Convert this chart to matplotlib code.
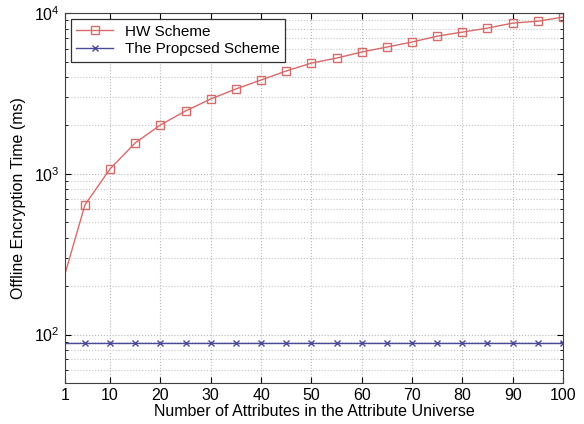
import numpy as np
import matplotlib
matplotlib.use("Agg")
import matplotlib.pyplot as plt
from matplotlib.ticker import LogLocator, NullFormatter

plt.rcParams['font.family'] = ['Liberation Sans', 'DejaVu Sans']

# number of attributes in the universe
attrs = [1, 5, 10, 15, 20, 25, 30, 35, 40, 45, 50,
         55, 60, 65, 70, 75, 80, 85, 90, 95, 100]

# offline encryption time (ms)
hw_time = [236, 641, 1074, 1559, 2014, 2462, 2922, 3374, 3836, 4366, 4887,
           5250, 5730, 6150, 6610, 7190, 7620, 8070, 8670, 8910, 9450]
proposed_time = [89] * len(attrs)

xticks = [1, 10, 20, 30, 40, 50, 60, 70, 80, 90, 100]

fig = plt.figure(figsize=(5.84, 4.24), dpi=100)
ax = fig.add_axes([0.111, 0.097, 0.853, 0.872])

ax.semilogy(attrs, hw_time, '-', color='#d86a6a', lw=1.0,
            marker='s', ms=6, mfc='none', mec='#d86a6a', mew=1.0,
            markevery=range(1, len(attrs)), label='HW Scheme')
ax.semilogy(attrs, proposed_time, '-', color='#4a4a9a', lw=1.0,
            marker='x', ms=5, mec='#4a4a9a', mew=1.0,
            markevery=range(1, len(attrs)), label='The Propcsed Scheme')

ax.set_xlim(1, 100)
ax.set_ylim(50, 1e4)
ax.set_xticks(xticks)
ax.yaxis.set_minor_locator(LogLocator(base=10, subs=np.arange(2, 10)))
ax.yaxis.set_minor_formatter(NullFormatter())

ax.grid(True, which='major', ls=':', color='#b8b8b8', lw=0.8)
ax.grid(True, which='minor', axis='y', ls=':', color='#c4c4c4', lw=0.8)

ax.tick_params(which='both', direction='in', top=True, right=True, labelsize=11.5)
ax.tick_params(which='major', length=4)
ax.tick_params(which='minor', length=2)
for s in ax.spines.values():
    s.set_color('#404040')

ax.set_xlabel('Number of Attributes in the Attribute Universe', fontsize=11.5, labelpad=1)
ax.set_ylabel('Offline Encryption Time (ms)', fontsize=11.5, labelpad=6)

leg = ax.legend(loc='upper left', fontsize=11, fancybox=False, framealpha=1,
                edgecolor='#303030', borderaxespad=0.4, handlelength=2.4,
                borderpad=0.35, labelspacing=0.25)
leg.get_frame().set_linewidth(0.9)

fig.savefig('out.png', dpi=100)
